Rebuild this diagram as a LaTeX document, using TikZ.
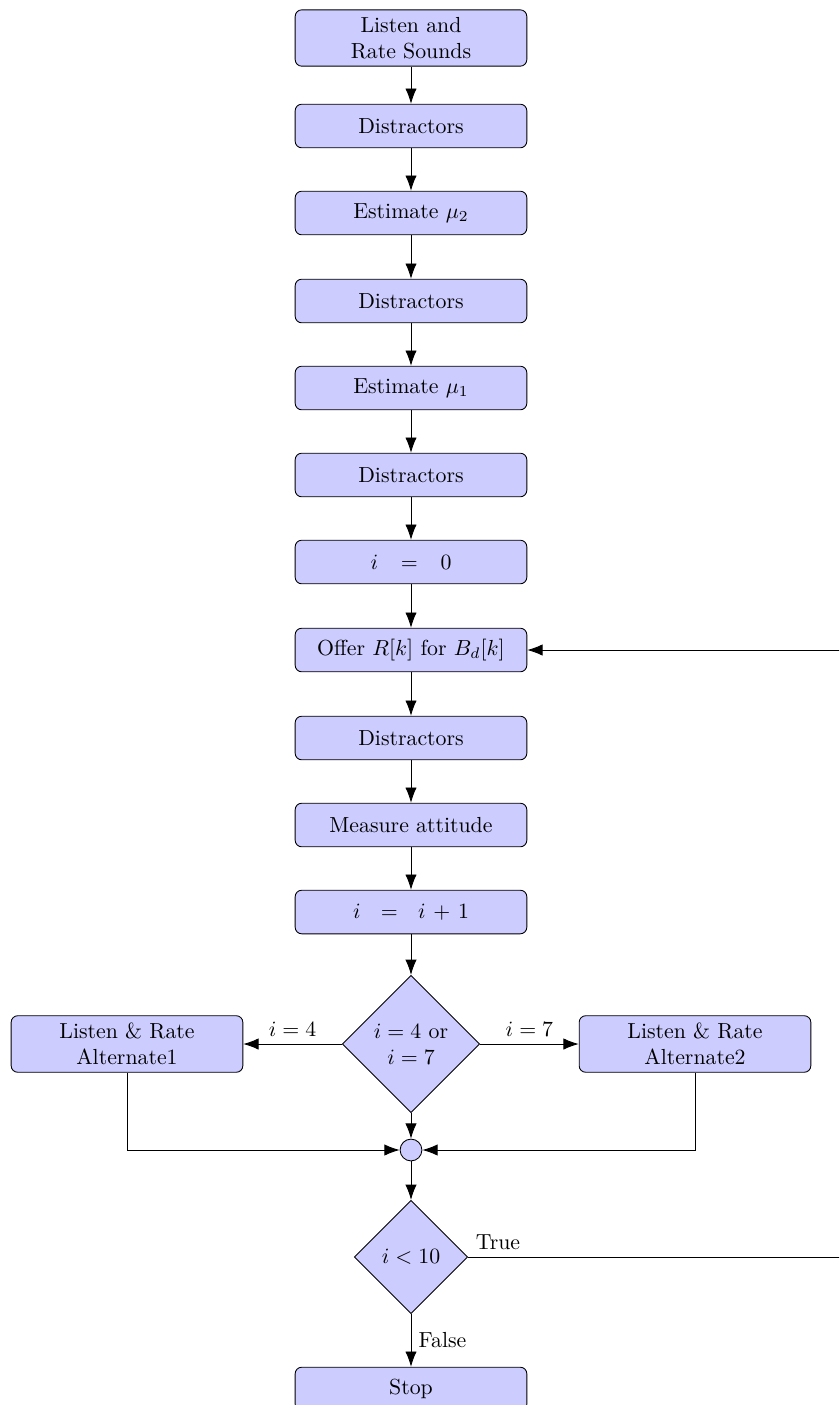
\documentclass[tikz,border=0pt]{standalone}
\usetikzlibrary{shapes.geometric,arrows.meta}
\begin{document}
\begin{tikzpicture}[x=0.4587pt,y=-0.4587pt,
 blk/.style={rectangle,draw,fill=blue!20,rounded corners=3pt,text width=3.5cm,align=center,minimum height=20pt,inner sep=0.3333em},
 dec/.style={diamond,draw,fill=blue!20,aspect=1,align=center,inner sep=1pt},
 jn/.style={circle,draw,fill=blue!20,minimum size=10pt,inner sep=0pt},
 arr/.style={-{Latex[length=7pt,width=5.2pt]}}]
\useasboundingbox (0,0) rectangle (839,1405);
\clip (0,0) rectangle (839,1405);
\node[blk] (n1) at (411,38) {Listen and\\Rate Sounds};
\node[blk] (n2) at (411,126) {Distractors};
\node[blk] (n3) at (411,213) {Estimate $\mu_2$};
\node[blk] (n4) at (411,301) {Distractors};
\node[blk] (n5) at (411,388) {Estimate $\mu_1$};
\node[blk] (n6) at (411,475) {Distractors};
\node[blk] (n7) at (411,562) {$i\ =\ 0$};
\node[blk] (n8) at (411,650) {Offer $R[k]$ for $B_d[k]$};
\node[blk] (n9) at (411,738) {Distractors};
\node[blk] (n10) at (411,825) {Measure attitude};
\node[blk] (n11) at (411,912) {$i\ =\ i+1$};
\node[dec,minimum size=63pt] (d1) at (411,1044) {$i=4$ or\\$i=7$};
\node[blk] (alt1) at (127,1044) {Listen \& Rate\\Alternate1};
\node[blk] (alt2) at (695,1044) {Listen \& Rate\\Alternate2};
\node[jn] (j) at (411,1150) {};
\node[dec,minimum size=52pt] (d2) at (411,1257) {$i<10$};
\node[blk] (stop) at (411,1389) {Stop};
\coordinate (far) at (880,1257);
\draw[arr] (n1) -- (n2);
\draw[arr] (n2) -- (n3);
\draw[arr] (n3) -- (n4);
\draw[arr] (n4) -- (n5);
\draw[arr] (n5) -- (n6);
\draw[arr] (n6) -- (n7);
\draw[arr] (n7) -- (n8);
\draw[arr] (n8) -- (n9);
\draw[arr] (n9) -- (n10);
\draw[arr] (n10) -- (n11);
\draw[arr] (n11) -- (d1);
\draw[arr] (d1.west) -- node[above] (l4) {$i=4$} (alt1.east);
\draw[arr] (d1.east) -- node[above] (l7) {$i=7$} (alt2.west);
\draw[arr] (d1.south) -- (j.north);
\draw[arr] (alt1.south) |- (j.west);
\draw[arr] (alt2.south) |- (j.east);
\draw[arr] (j.south) -- (d2.north);
\draw[arr] (d2.south) -- node[right] (lf) {False} (stop.north);
\draw[arr] (d2.east) -- (far) |- (n8.east);
\node[above right] (lt) at (d2.east) {True};
\end{tikzpicture}
\end{document}
